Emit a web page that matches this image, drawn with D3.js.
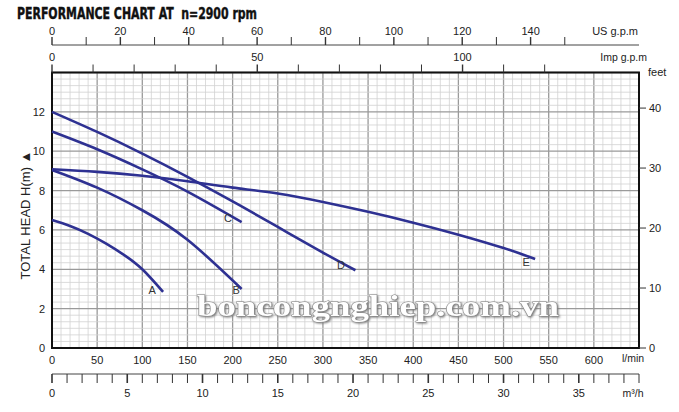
<!DOCTYPE html>
<html><head><meta charset="utf-8">
<script src="https://cdn.jsdelivr.net/npm/d3@7"></script>
<style>body{margin:0;background:#fff}svg{display:block}text{font-family:"Liberation Sans",Arial,sans-serif;fill:#222}</style>
</head><body><svg id="c" width="679" height="412"></svg>
<script>
// ---- data ----
const curveA = [[0,6.5],[20,6.2],[40,5.8],[60,5.3],[80,4.72],[100,4.0],[123,2.85]];
const curveB = [[0,9.05],[50,8.15],[100,7.0],[150,5.5],[210,3.0]];
const curveC = [[0,11.0],[50,10.1],[100,9.08],[150,7.95],[210,6.4]];
const curveD = [[0,12.0],[50,10.98],[100,9.88],[150,8.7],[200,7.45],[250,6.15],[300,4.85],[336,3.95]];
const curveE = [[0,9.08],[50,8.95],[100,8.75],[150,8.47],[200,8.15],[250,7.85],[300,7.42],[350,6.92],[400,6.37],[450,5.76],[500,5.08],[535,4.52]];
const curveNames = ["A","B","C","D","E"];
const labelPos = [[111,2.75],[204,2.74],[195,6.4],[320,4.0],[525,4.15]];
const lminTicks = [0,50,100,150,200,250,300,350,400,450,500,550,600];
const headTicks = [0,2,4,6,8,10,12];
const feetTicks = [0,10,20,30,40];
const usTicks = [0,20,40,60,80,100,120,140];
const impTicks = [0,50,100];
const m3hTicks = [0,5,10,15,20,25,30,35];

const svg = d3.select("#c");
const x = d3.scaleLinear().domain([0,650]).range([52,639]);
const y = d3.scaleLinear().domain([0,14]).range([348,72.5]);

// title
svg.append("text").attr("x",17).attr("y",19).attr("textLength",240).attr("lengthAdjust","spacingAndGlyphs")
  .style("font-family","'Liberation Sans Narrow','DejaVu Sans Condensed',sans-serif").style("font-weight","bold").style("font-size","15px").style("fill","#111")
  .style("white-space","pre").style("stroke","#111").style("stroke-width","0.4")
  .text("PERFORMANCE CHART AT\u00A0\u00A0n=2900 rpm");

// grid
const g = svg.append("g");
d3.range(0,651,10).forEach(v=>{
  const maj = v%50===0;
  g.append("line").attr("x1",x(v)).attr("x2",x(v)).attr("y1",y(0)).attr("y2",y(14))
   .attr("stroke",maj?"#9a9a9a":"#d2d2d2").attr("stroke-width",maj?1.3:0.8);
});
d3.range(0,43).forEach(i=>{
  const v=i/3, maj=i%6===0;
  g.append("line").attr("x1",x(0)).attr("x2",x(650)).attr("y1",y(v)).attr("y2",y(v))
   .attr("stroke",maj?"#9a9a9a":"#d2d2d2").attr("stroke-width",maj?1.3:0.8);
});
// frame
svg.append("rect").attr("x",x(0)).attr("y",y(14)).attr("width",x(650)-x(0)).attr("height",y(0)-y(14))
  .attr("fill","none").attr("stroke","#111").attr("stroke-width",2);

// left axis labels
headTicks.forEach(v=>svg.append("text").attr("x",45).attr("y",y(v)+4).attr("text-anchor","end").style("font-size","11px").text(v));
svg.append("text").attr("transform","translate(30,215) rotate(-90)").attr("text-anchor","middle").style("font-size","13px").text("TOTAL HEAD H(m) \u25B2");

// bottom l/min
lminTicks.forEach(v=>svg.append("text").attr("x",x(v)).attr("y",364).attr("text-anchor","middle").style("font-size","11px").text(v));
svg.append("text").attr("x",633).attr("y",362).attr("text-anchor","middle").style("font-size","10.5px").text("l/min");

// m3/h axis
const my = 374;
svg.append("line").attr("x1",x(0)).attr("x2",x(650)).attr("y1",my).attr("y2",my).attr("stroke","#444").attr("stroke-width",1);
d3.range(0,40).forEach(v=>{
  svg.append("line").attr("x1",x(v*1000/60)).attr("x2",x(v*1000/60)).attr("y1",my).attr("y2",my+9).attr("stroke","#333").attr("stroke-width",v%5===0?1.6:1);
});
m3hTicks.forEach(v=>svg.append("text").attr("x",x(v*1000/60)).attr("y",397).attr("text-anchor","middle").style("font-size","11px").text(v));
svg.append("text").attr("x",633).attr("y",397).attr("text-anchor","middle").style("font-size","10.5px").text("m\u00B3/h");

// right feet axis
feetTicks.forEach(v=>{
  const yy=y(v*0.3048);
  svg.append("line").attr("x1",x(650)).attr("x2",x(650)+7).attr("y1",yy).attr("y2",yy).attr("stroke","#333").attr("stroke-width",1);
  svg.append("text").attr("x",649).attr("y",yy+4).style("font-size","11px").text(v);
});
svg.append("text").attr("x",648).attr("y",76).style("font-size","11px").text("feet");

// US gpm axis
const uy = 45;
svg.append("line").attr("x1",x(0)).attr("x2",x(650)).attr("y1",uy).attr("y2",uy).attr("stroke","#444").attr("stroke-width",1);
d3.range(0,151,10).forEach(v=>{
  svg.append("line").attr("x1",x(v*3.78541)).attr("x2",x(v*3.78541)).attr("y1",uy).attr("y2",uy-8).attr("stroke","#333").attr("stroke-width",v%20===0?1.4:1);
});
usTicks.forEach(v=>svg.append("text").attr("x",x(v*3.78541)).attr("y",35).attr("text-anchor","middle").style("font-size","11px").text(v));
svg.append("text").attr("x",638).attr("y",35).attr("text-anchor","end").style("font-size","11px").text("US g.p.m");

// Imp gpm axis
d3.range(0,121,10).forEach(v=>{
  svg.append("line").attr("x1",x(v*4.54609)).attr("x2",x(v*4.54609)).attr("y1",y(14)).attr("y2",y(14)-8).attr("stroke","#333").attr("stroke-width",v%50===0?1.4:1);
});
impTicks.forEach(v=>svg.append("text").attr("x",x(v*4.54609)).attr("y",61).attr("text-anchor","middle").style("font-size","11px").text(v));
svg.append("text").attr("x",647).attr("y",61).attr("text-anchor","end").style("font-size","10.5px").text("Imp g.p.m");

// curves
const line = d3.line().x(d=>x(d[0])).y(d=>y(d[1])).curve(d3.curveNatural);
[curveA,curveB,curveC,curveD,curveE].forEach((c,i)=>{
  svg.append("path").attr("d",line(c)).attr("fill","none").attr("stroke","#2e3192").attr("stroke-width",2.6);
  svg.append("text").attr("x",x(labelPos[i][0])).attr("y",y(labelPos[i][1])).attr("text-anchor","middle").style("font-size","11px").style("fill","#333").text(curveNames[i]);
});

// watermark
svg.append("text").attr("x",197).attr("y",316).attr("textLength",362).attr("lengthAdjust","spacingAndGlyphs")
  .style("font-family","'Liberation Serif','DejaVu Serif',serif").style("font-weight","bold").style("font-size","29px")
  .style("fill","#fff").style("stroke","#888").style("stroke-width","1").style("paint-order","stroke")
  .style("filter","drop-shadow(1px 1px 1px #777)")
  .text("boncongnghiep.com.vn");
</script></body></html>
